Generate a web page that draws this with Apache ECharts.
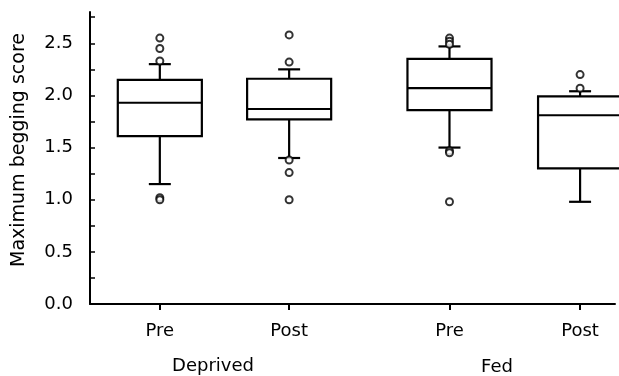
<!DOCTYPE html>
<html>
<head>
<meta charset="utf-8">
<script src="https://cdn.jsdelivr.net/npm/echarts@6/dist/echarts.min.js"></script>
<style>
html,body{margin:0;padding:0;background:#fff;}
#chart{width:619px;height:376px;}
</style>
</head>
<body>
<div id="chart"></div>
<script>
// ---- data ----
const categories = ['Pre', 'Post', 'Pre', 'Post'];
const groupNames = ['Deprived', 'Fed'];
const xPositions = [1, 2, 3.24, 4.25];
const whiskerLow  = [1.15, 1.40, 1.50, 0.98];
const q1          = [1.61, 1.77, 1.86, 1.30];
const median      = [1.93, 1.87, 2.07, 1.81];
const q3          = [2.15, 2.16, 2.35, 1.99];
const whiskerHigh = [2.30, 2.25, 2.47, 2.04];
const outliers = [
  [2.55, 2.45, 2.33, 1.02, 1.00],
  [2.58, 2.32, 1.38, 1.26, 1.00],
  [2.55, 2.52, 2.49, 1.47, 1.45, 0.98],
  [2.20, 2.07]
];
const yLabelValues = [0, 0.5, 1.0, 1.5, 2.0, 2.5];
const yTickValues = [0, 0.25, 0.5, 0.75, 1.0, 1.25, 1.5, 1.75, 2.0, 2.25, 2.5, 2.75];

// ---- build ----
const boxData = categories.map((c, i) => [xPositions[i], whiskerLow[i], q1[i], median[i], q3[i], whiskerHigh[i]]);
const outlierData = [];
outliers.forEach((arr, i) => arr.forEach(v => outlierData.push([xPositions[i], v])));

const FONT = 'DejaVu Sans';
const BOX_HALF = 0.325;
const CAP_HALF = 0.085;
const LW = 2.2;

function renderBox(params, api) {
  const x = api.value(0);
  const lo = api.coord([x, api.value(1)]);
  const b1 = api.coord([x, api.value(2)]);
  const md = api.coord([x, api.value(3)]);
  const b3 = api.coord([x, api.value(4)]);
  const hi = api.coord([x, api.value(5)]);
  const left = api.coord([x - BOX_HALF, 0])[0];
  const right = api.coord([x + BOX_HALF, 0])[0];
  const cl = api.coord([x - CAP_HALF, 0])[0];
  const cr = api.coord([x + CAP_HALF, 0])[0];
  const st = {stroke: '#000', lineWidth: LW, fill: null};
  return {
    type: 'group',
    children: [
      {type: 'line', shape: {x1: lo[0], y1: lo[1], x2: b1[0], y2: b1[1]}, style: st},
      {type: 'line', shape: {x1: b3[0], y1: b3[1], x2: hi[0], y2: hi[1]}, style: st},
      {type: 'line', shape: {x1: cl, y1: lo[1], x2: cr, y2: lo[1]}, style: st},
      {type: 'line', shape: {x1: cl, y1: hi[1], x2: cr, y2: hi[1]}, style: st},
      {type: 'rect', shape: {x: left, y: b3[1], width: right - left, height: b1[1] - b3[1]}, style: {stroke: '#000', lineWidth: LW, fill: '#fff'}},
      {type: 'line', shape: {x1: left, y1: md[1], x2: right, y2: md[1]}, style: st}
    ]
  };
}

const chart = echarts.init(document.getElementById('chart'), null, {renderer: 'canvas'});
chart.setOption({
  animation: false,
  backgroundColor: '#fff',
  grid: {left: 90, right: 4, top: 12, bottom: 72},
  xAxis: {
    type: 'value', min: 0.46, max: 4.52,
    splitLine: {show: false},
    axisLine: {show: true, lineStyle: {color: '#000', width: 2}},
    axisTick: {show: true, inside: false, length: 6, customValues: xPositions, lineStyle: {color: '#000', width: 2}},
    axisLabel: {
      customValues: xPositions, margin: 18, color: '#000',
      fontFamily: FONT, fontSize: 18,
      formatter: function (v) { const i = xPositions.indexOf(v); return i >= 0 ? categories[i] : ''; }
    }
  },
  yAxis: {
    type: 'value', min: 0, max: 2.8,
    name: 'Maximum begging score', nameLocation: 'middle', nameGap: 61,
    nameTextStyle: {fontFamily: FONT, fontSize: 19, color: '#000', padding: [0, 0, 0, 16]},
    splitLine: {show: false},
    axisLine: {show: true, lineStyle: {color: '#000', width: 2}},
    axisTick: {show: true, inside: true, length: 5, customValues: yTickValues, lineStyle: {color: '#000', width: 1.5}},
    axisLabel: {
      customValues: yLabelValues, margin: 17, color: '#000',
      fontFamily: FONT, fontSize: 18,
      formatter: function (v) { return v.toFixed(1); }
    }
  },
  graphic: [
    {type: 'text', x: 213, y: 366, style: {text: groupNames[0], font: '18px "DejaVu Sans"', fill: '#000', textAlign: 'center', textVerticalAlign: 'middle'}},
    {type: 'text', x: 497, y: 367, style: {text: groupNames[1], font: '18px "DejaVu Sans"', fill: '#000', textAlign: 'center', textVerticalAlign: 'middle'}}
  ],
  series: [
    {type: 'custom', renderItem: renderBox, data: boxData, encode: {x: 0, y: [1, 2, 3, 4, 5]}, clip: false, z: 2},
    {type: 'scatter', data: outlierData, symbol: 'circle', symbolSize: 7,
     itemStyle: {color: '#fff', borderColor: '#000', borderWidth: 2}, z: 3}
  ]
});
</script>
</body>
</html>
